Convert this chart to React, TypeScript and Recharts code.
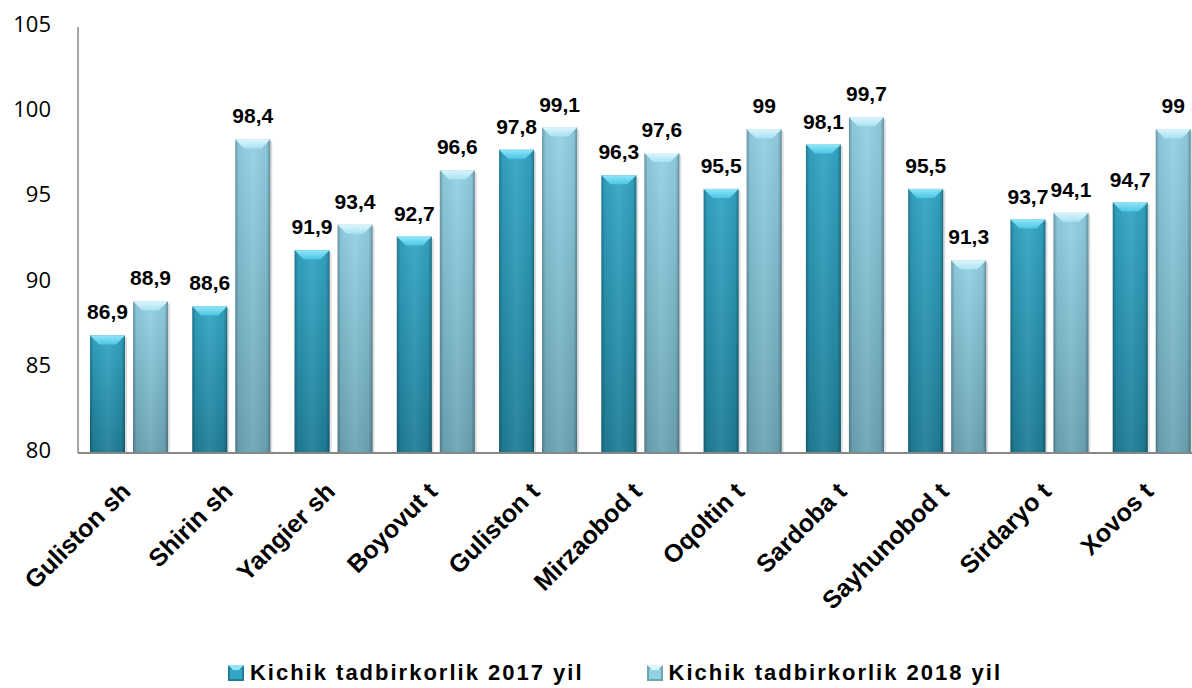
import { BarChart, Bar, XAxis, YAxis, Legend, LabelList } from 'recharts';

const districts = [
  'Guliston sh',
  'Shirin sh',
  'Yangier sh',
  'Boyovut t',
  'Guliston t',
  'Mirzaobod t',
  'Oqoltin t',
  'Sardoba t',
  'Sayhunobod t',
  'Sirdaryo t',
  'Xovos t',
];
const values2017 = [86.9, 88.6, 91.9, 92.7, 97.8, 96.3, 95.5, 98.1, 95.5, 93.7, 94.7];
const values2018 = [88.9, 98.4, 93.4, 96.6, 99.1, 97.6, 99, 99.7, 91.3, 94.1, 99];
const yTicks = [80, 85, 90, 95, 100, 105];
const seriesNames = ['Kichik tadbirkorlik 2017 yil', 'Kichik tadbirkorlik 2018 yil'];

const data = districts.map((name, i) => ({ name, y2017: values2017[i], y2018: values2018[i] }));

const palettes = {
  dark: { top: '#33a6c5', bottom: '#1f7d96', cap: '#4cc6e4', capLight: '#8fe6f8' },
  light: { top: '#93d1e4', bottom: '#6ca4b6', cap: '#a9e1f1', capLight: '#dcf6fc' },
};

const fmt = (v: any) => String(v).replace('.', ',');
const boldFont = '"Liberation Sans", Arial, sans-serif';

const makeBar = (id: string, p: typeof palettes.dark) => (props: any) => {
  const { x, y, width: w, height: h } = props;
  if (!h || h <= 0) return null;
  const b = Math.min(9, h / 2);
  return (
    <g>
      <defs>
        <linearGradient id={`${id}-body`} x1="0" y1="0" x2="0" y2="1">
          <stop offset="0" stopColor={p.top} />
          <stop offset="1" stopColor={p.bottom} />
        </linearGradient>
        <linearGradient id={`${id}-side`} x1="0" y1="0" x2="1" y2="0">
          <stop offset="0" stopColor="#000" stopOpacity={0.28} />
          <stop offset="0.1" stopColor="#000" stopOpacity={0.05} />
          <stop offset="0.5" stopColor="#fff" stopOpacity={0.06} />
          <stop offset="0.9" stopColor="#000" stopOpacity={0.05} />
          <stop offset="1" stopColor="#000" stopOpacity={0.32} />
        </linearGradient>
        <linearGradient id={`${id}-cap`} x1="0" y1="0" x2="0" y2="1">
          <stop offset="0" stopColor={p.capLight} />
          <stop offset="1" stopColor={p.cap} />
        </linearGradient>
      </defs>
      <rect x={x + 2} y={y + 2} width={w} height={h - 2} fill="#000" opacity={0.13} />
      <rect x={x} y={y} width={w} height={h} fill={`url(#${id}-body)`} />
      <rect x={x} y={y} width={w} height={h} fill={`url(#${id}-side)`} />
      <polygon
        points={`${x},${y} ${x + w},${y} ${x + w - 9},${y + b} ${x + 9},${y + b}`}
        fill={`url(#${id}-cap)`}
      />
    </g>
  );
};

const DarkBar = makeBar('dk', palettes.dark);
const LightBar = makeBar('lt', palettes.light);

const XTick = (props: any) => {
  const { x, y, payload } = props;
  const tx = x + 3;
  const ty = y + 40;
  return (
    <text
      x={tx}
      y={ty}
      transform={`rotate(-45, ${tx}, ${ty})`}
      textAnchor="end"
      fontFamily={boldFont}
      fontWeight="bold"
      fontSize={25}
      fill="#000"
    >
      {payload.value}
    </text>
  );
};

const YTick = (props: any) => {
  const { x, y, payload } = props;
  return (
    <text
      x={x}
      y={y}
      dy={5}
      textAnchor="end"
      fontFamily='"Open Sans", sans-serif'
      fontSize={22}
      fill="#000"
    >
      {payload.value}
    </text>
  );
};

const LegendIcon = ({ p }: { p: typeof palettes.dark }) => (
  <svg width={16} height={16} style={{ marginRight: 6 }}>
    <rect x={0} y={0} width={16} height={16} fill={p.bottom} />
    <rect x={2} y={4} width={12} height={10} fill={p.top} />
    <polygon points="0,0 16,0 11,5 5,5" fill={p.capLight} />
  </svg>
);

const renderLegend = () => (
  <div
    style={{
      display: 'flex',
      justifyContent: 'center',
      alignItems: 'center',
      height: 30,
      gap: 63,
      paddingLeft: 27,
      fontFamily: boldFont,
      fontWeight: 'bold',
      fontSize: 22,
      letterSpacing: 2,
      color: '#000',
    }}
  >
    <span style={{ display: 'flex', alignItems: 'center' }}>
      <LegendIcon p={palettes.dark} />
      {seriesNames[0]}
    </span>
    <span style={{ display: 'flex', alignItems: 'center' }}>
      <LegendIcon p={palettes.light} />
      {seriesNames[1]}
    </span>
  </div>
);

export default function App() {
  return (
    <div
      style={{
        position: 'fixed',
        left: 0,
        top: 0,
        width: 1192,
        height: 688,
        overflow: 'hidden',
        background: '#fff',
      }}
    >
      <BarChart
        width={1203}
        height={688}
        data={data}
        margin={{ top: 27, right: 0, bottom: 0, left: 0 }}
        barSize={35}
        barGap={8}
      >
        <XAxis
          dataKey="name"
          height={205}
          interval={0}
          tickLine={false}
          tickSize={0}
          tickMargin={0}
          axisLine={{ stroke: '#888', strokeWidth: 2 }}
          tick={<XTick />}
        />
        <YAxis
          width={78}
          domain={[80, 105]}
          ticks={yTicks}
          tickLine={false}
          tickSize={0}
          tickMargin={27}
          axisLine={{ stroke: '#888', strokeWidth: 1.5 }}
          tick={<YTick />}
        />
        <Legend verticalAlign="bottom" height={30} content={renderLegend} />
        <Bar dataKey="y2017" name={seriesNames[0]} shape={DarkBar} isAnimationActive={false}>
          <LabelList
            dataKey="y2017"
            position="top"
            offset={16}
            formatter={fmt}
            fontFamily={boldFont}
            fontWeight="bold"
            fontSize={21}
            fill="#000"
          />
        </Bar>
        <Bar dataKey="y2018" name={seriesNames[1]} shape={LightBar} isAnimationActive={false}>
          <LabelList
            dataKey="y2018"
            position="top"
            offset={16}
            formatter={fmt}
            fontFamily={boldFont}
            fontWeight="bold"
            fontSize={21}
            fill="#000"
          />
        </Bar>
      </BarChart>
    </div>
  );
}
